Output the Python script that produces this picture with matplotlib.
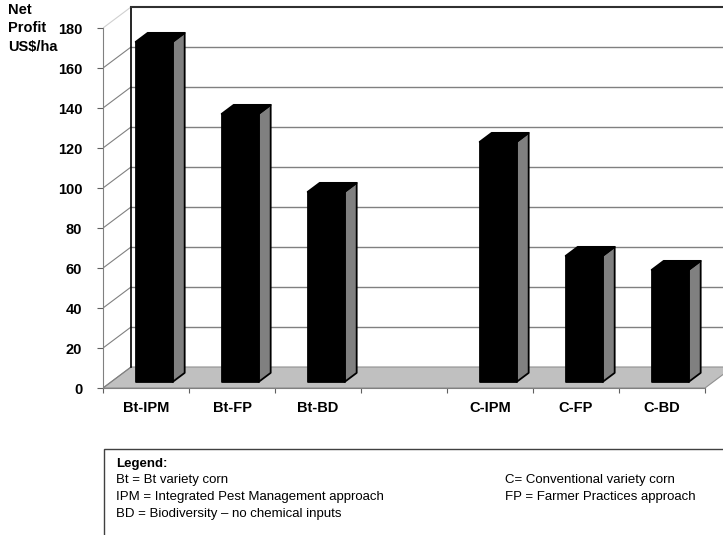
import numpy as np
import matplotlib
matplotlib.use('Agg')
import matplotlib.pyplot as plt
from matplotlib.patches import Polygon, Rectangle

plt.rcParams['font.family'] = ['Liberation Sans', 'DejaVu Sans']

# data
categories = ['Bt-IPM', 'Bt-FP', 'Bt-BD', '', 'C-IPM', 'C-FP', 'C-BD']
profit = [170, 134, 95, np.nan, 120, 63, 56]
y_ticks = list(range(0, 181, 20))

legend_left = ['Bt = Bt variety corn',
               'IPM = Integrated Pest Management approach',
               'BD = Biodiversity \u2013 no chemical inputs']
legend_right = ['C= Conventional variety corn',
                'FP = Farmer Practices approach']

# fake 3d depth (category units, value units)
DX = 0.326
DY = 10.5
d0, d1 = 0.29, 0.72     # bar depth range
bw = 0.43               # bar width

W, H = 723, 535
fig = plt.figure(figsize=(W / 100, H / 100), dpi=100)
ax = fig.add_axes([103 / W, (H - 388) / H, 620 / W, 388 / H])
n = len(categories)
ax.set_xlim(0, 620 / 86)
ax.set_ylim(0, 194)
ax.patch.set_visible(False)

# floor
ax.add_patch(Polygon([(0, 0), (n, 0), (n + DX, DY), (DX, DY)],
                     closed=True, facecolor='#c0c0c0', edgecolor='#909090',
                     lw=0.8, zorder=1))

# side wall gridlines (diagonal)
for v in y_ticks:
    col = '#808080' if v < 180 else '#d0d0d0'
    ax.plot([0, DX], [v, v + DY], color=col, lw=0.8, zorder=1)

# back wall gridlines
for v in y_ticks[1:-1]:
    ax.plot([DX, 10], [v + DY, v + DY], color='#808080', lw=1.0, zorder=1)

# back wall border
ax.plot([DX, DX], [DY, 180 + DY], color='black', lw=1.2, zorder=2)
ax.plot([DX, 10], [180 + DY, 180 + DY], color='#303030', lw=1.5, zorder=2)

# bars
for i, v in enumerate(profit):
    if np.isnan(v):
        continue
    c = i + 0.5
    fx0 = c - bw / 2 + d0 * DX
    fx1 = c + bw / 2 + d0 * DX
    bx0 = c - bw / 2 + d1 * DX
    bx1 = c + bw / 2 + d1 * DX
    fb = d0 * DY
    bb = d1 * DY
    side = Polygon([(fx1, fb), (fx1, fb + v), (bx1, bb + v), (bx1, bb)],
                   closed=True, facecolor='#808080', edgecolor='black',
                   lw=1.3, joinstyle='round', zorder=3)
    top = Polygon([(fx0, fb + v), (fx1, fb + v), (bx1, bb + v), (bx0, bb + v)],
                  closed=True, facecolor='black', edgecolor='black',
                  lw=1.3, joinstyle='round', zorder=3)
    front = Polygon([(fx0, fb), (fx1, fb), (fx1, fb + v), (fx0, fb + v)],
                    closed=True, facecolor='black', edgecolor='black',
                    lw=1.3, joinstyle='round', zorder=4)
    ax.add_patch(side)
    ax.add_patch(top)
    ax.add_patch(front)

# axes, ticks
for s in ['top', 'right']:
    ax.spines[s].set_visible(False)
ax.spines['left'].set_bounds(0, 180)
ax.spines['bottom'].set_bounds(0, n)
ax.spines['left'].set_color('#808080')
ax.spines['bottom'].set_color('#808080')
ax.spines['left'].set_linewidth(0.8)
ax.spines['bottom'].set_linewidth(0.8)

ax.set_yticks(y_ticks)
ax.set_yticklabels([str(t) for t in y_ticks], fontsize=10.5, fontweight='bold')
ax.tick_params(axis='y', length=4.5, width=0.8, color='#606060', pad=10.5)

ax.set_xticks(np.arange(n + 1))
ax.set_xticklabels([])
ax.set_xticks(np.arange(n) + 0.5, minor=True)
ax.set_xticklabels(categories, minor=True, fontsize=10.5, fontweight='bold')
ax.tick_params(axis='x', which='major', length=3.5, width=0.8, color='#606060')
ax.tick_params(axis='x', which='minor', length=0, pad=9)

# axis title
fig.text(8 / W, 1 - 3 / H, 'Net\nProfit\nUS$/ha', ha='left', va='top',
         fontsize=10.5, fontweight='bold', linespacing=1.4)

# legend box
fig.patches.append(Rectangle((104 / W, -0.05), 0.9, (H - 449) / H + 0.05,
                             transform=fig.transFigure, facecolor='white',
                             edgecolor='#404040', lw=1.0))
fig.text(116 / W, 1 - 464 / H, 'Legend:', fontsize=9.5, fontweight='bold',
         va='center', ha='left')
for k, s in enumerate(legend_left):
    fig.text(116 / W, 1 - (480 + 17 * k) / H, s, fontsize=9.5,
             va='center', ha='left')
for k, s in enumerate(legend_right):
    fig.text(505 / W, 1 - (480 + 17 * k) / H, s, fontsize=9.5,
             va='center', ha='left')

fig.savefig('out.png', dpi=100)
